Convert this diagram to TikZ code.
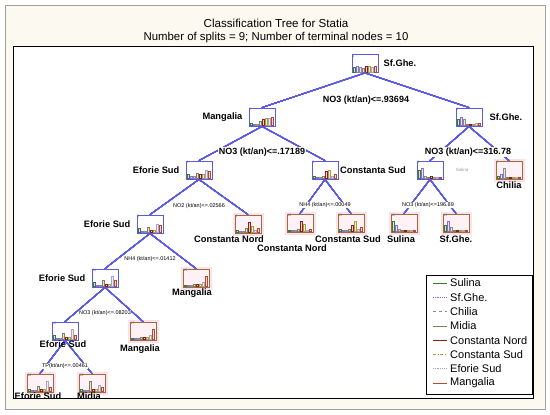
\documentclass[tikz,border=0pt]{standalone}
\usepackage{fontspec}
\setmainfont{Liberation Sans}
\usetikzlibrary{calc, positioning}
\definecolor{cblue}{HTML}{5A5AE6}
\definecolor{ctan}{HTML}{A06A3A}
\definecolor{cpink}{HTML}{FFF2F6}
\definecolor{chalo}{HTML}{FBE1EC}
\definecolor{cgrey}{HTML}{6B6B6B}
\definecolor{cframe}{HTML}{A0A0A0}
\definecolor{cbg}{HTML}{FCFAF0}
% class colours, in legend order
\definecolor{cc1}{HTML}{3C7A2E}
\definecolor{cc2}{HTML}{8E6BD8}
\definecolor{cc3}{HTML}{8C8C8C}
\definecolor{cc4}{HTML}{7F7F5F}
\definecolor{cc5}{HTML}{8B1E1E}
\definecolor{cc6}{HTML}{A8A038}
\definecolor{cc7}{HTML}{A9A3C9}
\definecolor{cc8}{HTML}{B04A2A}
\tikzset{
  splitnode/.style={draw=cblue, fill=white, line width=0.9pt, minimum width=26pt, minimum height=18pt, inner sep=0pt},
  termnode/.style={draw=ctan, fill=cpink, line width=0.9pt, minimum width=26pt, minimum height=18pt, inner sep=0pt,
                   preaction={draw=chalo, line width=5pt}},
  edge/.style={draw=cblue, line width=0.85pt},
  cls/.style={font=\bfseries\fontsize{9.3}{10}\selectfont, inner sep=1pt},
  bigsplit/.style={fill=white, font=\bfseries\fontsize{9}{10}\selectfont, inner sep=1pt},
  smallsplit/.style={fill=white, font=\fontsize{5.5}{6}\selectfont, inner sep=0.5pt},
  nodeid/.style={anchor=north west, inner sep=0.6pt, font=\fontsize{3.5}{4}\selectfont, text=cgrey},
}
\newcommand{\classbars}[2]{%
  \foreach \h [count=\k] in #2
    \draw[draw=cc\k, fill=cc\k!20, line width=0.4pt] ($(#1.south west)+(3*\k-1.6,-1.2)$) rectangle ++(2.4,-1.2*\h);
}

\begin{document}
\begin{tikzpicture}[x=1pt, y=-1pt]
  \useasboundingbox (0,0) rectangle (550,415);
  \draw[draw=cframe, fill=cbg, line width=1pt] (5,5) rectangle (545,409);
  \node[font=\fontsize{11.6}{13}\selectfont] (title) at (276,23) {Classification Tree for Statia};
  \node[font=\fontsize{11.4}{13}\selectfont] (subtitle) at (276,38) {Number of splits = 9; Number of terminal nodes = 10};
  \draw[fill=white, line width=0.9pt] (13,46) rectangle (533,398);
  % tree nodes
  \foreach \n/\x/\y/\t in {1/365/63.5/splitnode, 2/262/117/splitnode, 3/469/117/splitnode,
      4/199/170/splitnode, 5/325/170/splitnode, 6/430/170/splitnode, 7/509/170/termnode,
      8/150/224/splitnode, 9/248/224/termnode, 10/300/223/termnode, 11/351/223/termnode,
      12/404/223/termnode, 13/456/223/termnode, 14/105/278/splitnode, 15/196/278/termnode,
      16/65/331/splitnode, 17/143/331/termnode, 18/40/383/termnode, 19/92/383/termnode}
    \node[\t] (n\n) at (\x,\y) {};
  \foreach \n in {1,...,19}
    \node[nodeid] (id\n) at (n\n.north west) {\n};
  \foreach \n/\hs in {1/{4,5,4,3,5,5,4,5}, 2/{2,1,1,3,5,6,6,7}, 3/{5,7,5,1,1,1,2,2}, 4/{3,2,2,4,3,3,7,6},
      5/{2,1,1,2,6,7,2,3}, 6/{7,8,2,1,2,1,1,1}, 7/{2,3,8,1,1,1,1,1}, 8/{3,1,1,4,2,2,7,6},
      9/{2,1,1,3,8,5,2,3}, 10/{1,1,1,2,8,6,1,2}, 11/{2,1,1,2,5,8,2,3}, 12/{8,5,2,1,1,1,1,1},
      13/{5,8,3,1,1,1,1,1}, 14/{3,1,1,5,2,2,8,5}, 15/{1,1,1,2,2,2,3,8}, 16/{3,1,1,5,2,2,8,3},
      17/{1,1,1,2,2,2,3,8}, 18/{2,1,1,4,2,2,8,3}, 19/{2,1,1,8,2,2,5,3}}
    \classbars{n\n}{\hs}
  % connectors
  \foreach \a/\b in {1/2,1/3,2/4,2/5,3/6,3/7,4/8,4/9,5/10,5/11,6/12,6/13,8/14,8/15,14/16,14/17,16/18,16/19}
    \draw[edge] (n\a.south) -- (n\b.north);
  % split rules
  \node[bigsplit] (s1) at (366,100) {NO3 (kt/an)<=.93694};
  \node[bigsplit] (s2) at (262,152) {NO3 (kt/an)<=.17189};
  \node[bigsplit] (s3) at (468,152) {NO3 (kt/an)<=316.78};
  \node[smallsplit] (s4) at (199,206) {NO2 (kt/an)<=.02566};
  \node[smallsplit] (s5) at (325,205) {NH4 (kt/an)<=.00049};
  \node[smallsplit] (s6) at (428,205) {NO3 (kt/an)<=196.89};
  \node[smallsplit] (s8) at (150,259) {NH4 (kt/an)<=.01412};
  \node[smallsplit] (s14) at (105,313) {NO3 (kt/an)<=.08203};
  \node[smallsplit] (s16) at (65,366) {TP(kt/an)<=.00461};
  % class of each node
  \node[cls, right=4pt of n1] (l1) {Sf.Ghe.};
  \node[cls, left=5pt of n2] (l2) {Mangalia};
  \node[cls, right=6pt of n3] (l3) {Sf.Ghe.};
  \node[cls, left=5pt of n4] (l4) {Eforie Sud};
  \node[cls, right=0.5pt of n5] (l5) {Constanta Sud};
  \node[font=\fontsize{4.5}{5}\selectfont, text=cgrey!70, right=9pt of n6] (l6) {Sulina};
  \node[cls, below=1pt of n7] (l7) {Chilia};
  \node[cls, below=1pt of n9, xshift=-19pt] (l9) {Constanta Nord};
  \node[cls, left=5pt of n8] (l8) {Eforie Sud};
  \node[cls, below=11pt of n10, xshift=-8pt] (l10) {Constanta Nord};
  \node[cls, below=2pt of n11, xshift=-3pt] (l11) {Constanta Sud};
  \node[cls, below=2pt of n12, xshift=-3pt] (l12) {Sulina};
  \node[cls, below=2pt of n13] (l13) {Sf.Ghe.};
  \node[cls, left=5pt of n14] (l14) {Eforie Sud};
  \node[cls, below=0pt of n15, xshift=-4pt] (l15) {Mangalia};
  \node[cls, below=-1pt of n16, xshift=-2pt] (l16) {Eforie Sud};
  \node[cls, below=3pt of n17, xshift=-3pt] (l17) {Mangalia};
  \node[cls, below=-1pt of n18, xshift=-2pt] (l18) {Eforie Sud};
  \node[cls, below=-1pt of n19, xshift=-3pt] (l19) {Midia};
  % legend
  \draw[fill=white, line width=0.8pt] (426,275) rectangle (532,394);
  \foreach \c/\d/\t [count=\i] in {cc1/solid/Sulina, cc2/densely dotted/Sf.Ghe., cc3/dashed/Chilia,
      cc4/solid/Midia, cc5/solid/Constanta Nord, cc6/dash dot/Constanta Sud,
      cc7/densely dotted/Eforie Sud, cc8/solid/Mangalia} {
    \coordinate (k\i) at (433,268.7+14.3*\i);
    \coordinate (m\i) at (447,268.7+14.3*\i);
    \draw[\c, \d, line width=0.8pt] (k\i) -- (m\i);
    \node[anchor=west, inner sep=0pt, font=\fontsize{11}{12}\selectfont] (leg\i) at (450,268.7+14.3*\i) {\t};
  }
\end{tikzpicture}
\end{document}
